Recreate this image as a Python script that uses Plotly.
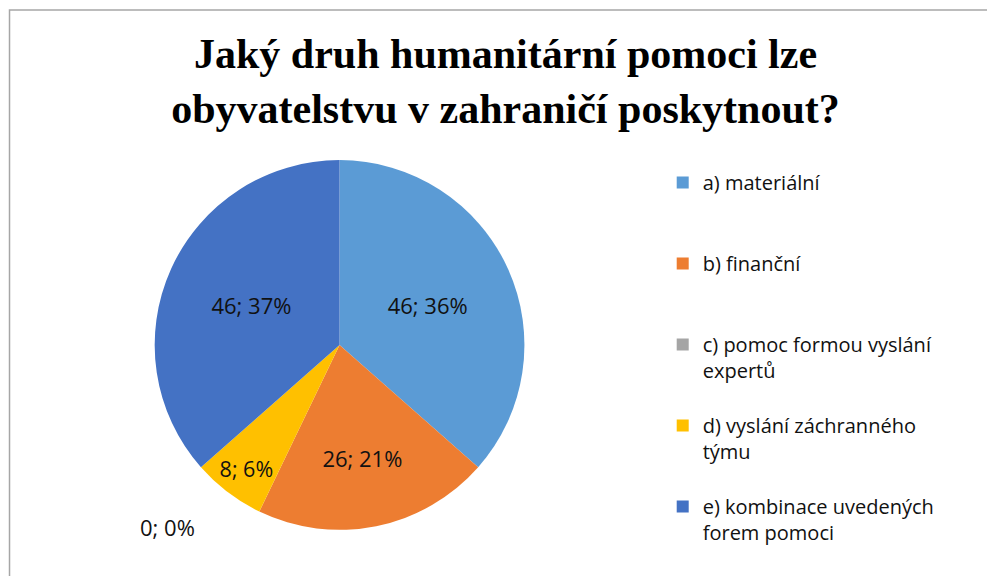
import plotly.graph_objects as go

title_lines = ["Jaký druh humanitární pomoci lze", "obyvatelstvu v zahraničí poskytnout?"]
categories = ["a) materiální", "b) finanční", "c) pomoc formou vyslání<br>expertů",
              "d) vyslání záchranného<br>týmu", "e) kombinace uvedených<br>forem pomoci"]
values = [46, 26, 0, 8, 46]
percents = [36, 21, 0, 6, 37]
colors = ["#5B9BD5", "#ED7D31", "#A5A5A5", "#FFC000", "#4472C4"]

# pad legend labels to equal height (3 lines) so items are evenly spaced
legend_labels = []
for c in categories:
    n = c.count("<br>") + 1
    legend_labels.append(c + "<br>&nbsp;" * (3 - n))

texts = [f"{v}; {p}%" for v, p in zip(values, percents)]

fig = go.Figure()
fig.add_trace(go.Pie(
    labels=legend_labels,
    values=values,
    text=texts,
    textinfo="text",
    textposition="inside",
    insidetextorientation="horizontal",
    sort=False,
    direction="clockwise",
    rotation=0,
    marker=dict(colors=colors, line=dict(color="white", width=0)),
    textfont=dict(family="Open Sans, Arial", size=22, color="#111111"),
    domain=dict(x=[0.138, 0.538], y=[0.065, 0.73]),
    showlegend=True,
    hoverinfo="label+value+percent",
))

# zero-value slice label (Plotly does not draw labels for empty slices)
fig.add_annotation(
    x=0.162, y=0.07, xref="paper", yref="paper",
    xanchor="center", yanchor="middle",
    text=texts[2], showarrow=False,
    font=dict(family="Open Sans, Arial", size=22, color="#111111"),
)

fig.update_layout(
    width=995, height=576,
    paper_bgcolor="white", plot_bgcolor="white",
    margin=dict(l=2, r=18, t=2, b=18, autoexpand=False),
    title=dict(
        text="<b>" + "<br>".join(title_lines) + "</b>",
        x=0.5, xanchor="center", y=0.896, yanchor="top",
        font=dict(family="Liberation Serif, Times New Roman", size=42, color="#000000"),
    ),
    legend=dict(
        xref="container", yref="container",
        x=0.658, xanchor="left", y=0.731, yanchor="top",
        valign="top",
        maxheight=560,
        font=dict(family="Open Sans, Arial", size=20, color="#111111"),
        itemwidth=30,
        bgcolor="rgba(0,0,0,0)",
    ),
    shapes=[dict(type="rect", xref="paper", yref="paper",
                 x0=-0.0005, x1=1.05, y0=-0.1, y1=1.0,
                 line=dict(color="#A6A6A6", width=1.5))],
)

fig.write_html("out.html")
